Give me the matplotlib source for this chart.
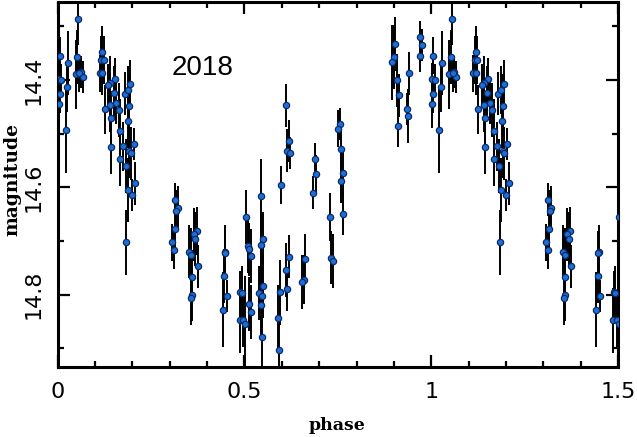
import numpy as np
import matplotlib
matplotlib.use("Agg")
import matplotlib.pyplot as plt
from matplotlib.ticker import MultipleLocator, FixedLocator

# phase-folded light curve (phase 0..1), plotted again at phase+1
phase = [
    0.003, 0.006, 0.002, 0.009, 0.006, 0.028, 0.025, 0.021, 0.055, 0.052,
    0.048, 0.062, 0.067, 0.058, 0.119, 0.116, 0.123, 0.112, 0.119, 0.153,
    0.141, 0.135, 0.150, 0.156, 0.140, 0.126, 0.164, 0.143, 0.167, 0.143,
    0.168, 0.175, 0.182, 0.179, 0.187, 0.194, 0.191, 0.189, 0.191, 0.196,
    0.203, 0.188, 0.200, 0.207, 0.184,
    0.313, 0.321, 0.317, 0.314, 0.307, 0.312, 0.372, 0.364, 0.368, 0.352,
    0.357, 0.375, 0.359, 0.359, 0.356,
    0.449, 0.447, 0.446, 0.453, 0.442, 0.504, 0.510, 0.512, 0.517, 0.489,
    0.493, 0.511, 0.517, 0.487, 0.496, 0.502,
    0.544, 0.549, 0.545, 0.550, 0.539, 0.547, 0.543, 0.546, 0.598, 0.611,
    0.618, 0.615, 0.621, 0.618, 0.611, 0.615, 0.595, 0.589, 0.593,
    0.662, 0.659, 0.654, 0.688, 0.691, 0.684, 0.755, 0.751, 0.759, 0.763,
    0.759, 0.765, 0.730, 0.732, 0.737,
    0.902, 0.899, 0.896, 0.908, 0.914, 0.911, 0.940, 0.934, 0.937, 0.969,
    0.974, 0.971,
]
magnitude = [
    14.445, 14.355, 14.398, 14.400, 14.427, 14.369, 14.414, 14.493, 14.286, 14.357,
    14.390, 14.385, 14.394, 14.388, 14.349, 14.363, 14.363, 14.388, 14.388, 14.399,
    14.405, 14.410, 14.425, 14.443, 14.447, 14.455, 14.456, 14.471, 14.495, 14.525,
    14.548, 14.524, 14.560, 14.426, 14.419, 14.408, 14.449, 14.477, 14.532, 14.537,
    14.519, 14.605, 14.614, 14.593, 14.703,
    14.623, 14.638, 14.645, 14.678, 14.703, 14.717, 14.682, 14.688, 14.697, 14.720,
    14.726, 14.747, 14.767, 14.800, 14.807,
    14.720, 14.722, 14.766, 14.803, 14.828, 14.656, 14.709, 14.716, 14.728, 14.796,
    14.797, 14.817, 14.833, 14.848, 14.848, 14.855,
    14.617, 14.697, 14.708, 14.784, 14.797, 14.802, 14.820, 14.879, 14.596, 14.447,
    14.514, 14.532, 14.537, 14.730, 14.754, 14.790, 14.796, 14.843, 14.904,
    14.733, 14.772, 14.777, 14.547, 14.575, 14.610, 14.483, 14.491, 14.528, 14.574,
    14.589, 14.650, 14.655, 14.731, 14.737,
    14.333, 14.357, 14.367, 14.401, 14.429, 14.486, 14.388, 14.455, 14.468, 14.320,
    14.335, 14.356,
]
mag_err = [
    0.045, 0.035, 0.030, 0.030, 0.035, 0.060, 0.045, 0.080, 0.050, 0.050,
    0.065, 0.030, 0.030, 0.035, 0.050, 0.045, 0.045, 0.035, 0.040, 0.040,
    0.050, 0.040, 0.050, 0.040, 0.050, 0.045, 0.050, 0.050, 0.060, 0.050,
    0.050, 0.045, 0.050, 0.040, 0.045, 0.045, 0.060, 0.050, 0.050, 0.050,
    0.030, 0.060, 0.030, 0.040, 0.060,
    0.030, 0.040, 0.040, 0.040, 0.035, 0.035, 0.045, 0.050, 0.050, 0.050,
    0.050, 0.040, 0.050, 0.050, 0.050,
    0.050, 0.040, 0.050, 0.030, 0.070, 0.050, 0.050, 0.050, 0.050, 0.040,
    0.050, 0.050, 0.050, 0.060, 0.050, 0.090,
    0.070, 0.050, 0.060, 0.060, 0.050, 0.060, 0.060, 0.060, 0.035, 0.040,
    0.040, 0.040, 0.030, 0.040, 0.050, 0.040, 0.060, 0.060, 0.050,
    0.045, 0.045, 0.050, 0.030, 0.035, 0.030, 0.030, 0.035, 0.040, 0.040,
    0.040, 0.040, 0.045, 0.050, 0.050,
    0.050, 0.060, 0.070, 0.050, 0.040, 0.040, 0.040, 0.030, 0.050, 0.030,
    0.030, 0.030,
]
x_ticks = [0, 0.5, 1, 1.5]
x_tick_labels = ["0", "0.5", "1", "1.5"]
y_ticks = [14.4, 14.6, 14.8]
y_tick_labels = ["14.4", "14.6", "14.8"]
season_label = "2018"

ph = np.array(phase)
mg = np.array(magnitude)
er = np.array(mag_err)
# fold: show 0..1 plus repeat at +1
ph_all = np.concatenate([ph, ph + 1.0])
mg_all = np.concatenate([mg, mg])
er_all = np.concatenate([er, er])

W, H = 637, 437
fig = plt.figure(figsize=(W / 100, H / 100), dpi=100)
ax = fig.add_axes([57.7 / W, 1 - 367 / H, (618 - 57.7) / W, (367 - 2) / H])

ax.errorbar(ph_all, mg_all, yerr=er_all, fmt='o', ms=4.5,
            mfc='#1c6fd6', mec='#0b2a66', mew=0.9,
            ecolor='black', elinewidth=1.4, capsize=0, zorder=3)

ax.set_xlim(0, 1.5)
ax.set_ylim(14.935, 14.255)

ax.xaxis.set_major_locator(FixedLocator(x_ticks))
ax.set_xticklabels(x_tick_labels)
ax.xaxis.set_minor_locator(MultipleLocator(0.1))
ax.yaxis.set_major_locator(FixedLocator(y_ticks))
ax.set_yticklabels(y_tick_labels)
ax.yaxis.set_minor_locator(MultipleLocator(0.1))

ax.tick_params(which='both', direction='in', top=True, right=True, width=1.6,
               colors='black')
ax.tick_params(which='major', length=8.5)
ax.tick_params(which='minor', length=4.5)
ax.tick_params(axis='x', which='major', pad=11, labelsize=16)
ax.tick_params(axis='y', which='major', pad=10.5, labelsize=16)
for lab in ax.get_xticklabels():
    lab.set_fontfamily('DejaVu Sans')
for lab in ax.get_yticklabels():
    lab.set_fontfamily('DejaVu Sans')
    lab.set_rotation(90)
    lab.set_va('center')

for sp in ax.spines.values():
    sp.set_linewidth(2.2)

ax.text(0.388, 14.378, season_label, ha='center', va='center',
        fontsize=20, family='Liberation Sans')

fig.text(337 / W, 1 - 425 / H, 'phase', ha='center', va='center',
         fontsize=12.5, fontweight='bold', family='DejaVu Serif')
fig.text(12 / W, 1 - 179 / H, 'magnitude', ha='center', va='center',
         rotation=90, fontsize=13.5, fontweight='bold', family='DejaVu Serif')

fig.savefig('out.png', dpi=100)
